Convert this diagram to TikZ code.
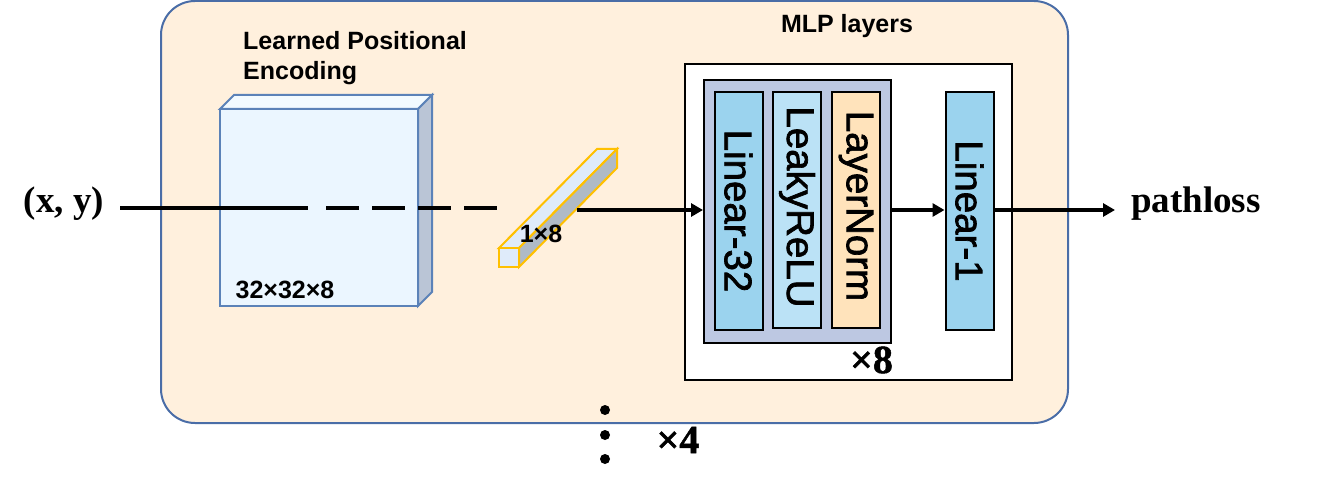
\documentclass[tikz,border=0pt]{standalone}
\usepackage{fontspec}
\setmainfont{Liberation Sans}
\newfontfamily\serifbf{Liberation Serif}
\newfontfamily\timesfont[BoldFeatures={FakeBold=1.2}]{Liberation Serif}
\newfontfamily\layerfont[FakeBold=1.8]{Liberation Sans}
\usetikzlibrary{arrows.meta, positioning}

\definecolor{panelfill}{HTML}{FFF0DD}
\definecolor{panelline}{HTML}{4A6DA7}
\definecolor{cubefront}{HTML}{EBF6FF}
\definecolor{cubetop}{HTML}{F2FAFF}
\definecolor{cubeside}{HTML}{BAC5D6}
\definecolor{cubeline}{HTML}{5B82B8}
\definecolor{stickline}{HTML}{FFC000}
\definecolor{stickfill}{HTML}{DFEBFA}
\definecolor{stickside}{HTML}{AFBAC6}
\definecolor{groupfill}{HTML}{BDC8E2}
\definecolor{linearfill}{HTML}{9BD3EE}
\definecolor{relufill}{HTML}{BBE2F6}
\definecolor{normfill}{HTML}{FFE3BB}

\tikzset{
  layerbox/.style={draw=black, line width=2pt, inner sep=0pt, minimum width=48pt, minimum height=#1},
  layertext/.style={rotate=-90, font=\layerfont\fontsize{38.5}{38.5}\selectfont},
  caption/.style={font=\bfseries\fontsize{25}{30}\selectfont, align=left},
  dimtext/.style={font=\bfseries\fontsize{25}{25}\selectfont},
  bigtext/.style={font=\serifbf\bfseries\fontsize{37}{37}\selectfont},
  timestext/.style={font=\timesfont\bfseries\fontsize{40}{40}\selectfont},
  thick line/.style={line width=4pt},
  flow/.style={line width=3.6pt, -{Triangle[length=12pt, width=13pt]}},
  dot/.style={circle, fill=black, inner sep=0pt, minimum size=10pt}
}

\begin{document}
\begin{tikzpicture}[x=1pt, y=-1pt]

  \useasboundingbox (0,0) rectangle (1328,484);

  % outer panel
  \node[draw=panelline, fill=panelfill, line width=2pt, rounded corners=34pt, inner sep=0pt,
        minimum width=907pt, minimum height=422pt] (panel) at (614.5,212) {};

  % positional encoding cube
  \draw[draw=cubeline, line width=2pt, fill=cubetop] (220,109) -- (234,95) -- (432,95) -- (418,109) -- cycle;
  \draw[draw=cubeline, line width=2pt, fill=cubeside] (418,109) -- (432,95) -- (432,292) -- (418,306) -- cycle;
  \node[draw=cubeline, fill=cubefront, line width=2pt, inner sep=0pt,
        minimum width=198pt, minimum height=197pt] (cube) at (319,207.5) {};

  % embedding stick
  \draw[draw=stickline, line width=2pt, fill=stickfill] (499,248) -- (597,149) -- (617,149) -- (519,248) -- cycle;
  \draw[draw=stickline, line width=2pt, fill=stickside] (519,248) -- (617,149) -- (617,168) -- (519,267) -- cycle;
  \node[draw=stickline, fill=stickfill, line width=2pt, inner sep=0pt,
        minimum width=20pt, minimum height=19pt] (stick) at (509,257.5) {};

  % mlp boxes
  \node[draw=black, fill=white, line width=2pt, inner sep=0pt,
        minimum width=327pt, minimum height=316pt] (mlp) at (848.5,222) {};
  \node[draw=black, fill=groupfill, line width=2pt, inner sep=0pt,
        minimum width=187pt, minimum height=262pt] (group) at (797.5,211.5) {};
  \node[layerbox=238pt, fill=linearfill] (lin32) at (738.5,211) {};
  \node[layerbox=236pt, fill=relufill] (relu) at (797,210) {};
  \node[layerbox=236pt, fill=normfill] (norm) at (856,210) {};
  \node[layerbox=238pt, fill=linearfill] (lin1) at (969.5,211) {};
  \node[layertext] (lin32text) at (lin32) {Linear-32};
  \node[layertext, xshift=-3pt] (relutext) at (relu) {LeakyReLU};
  \node[layertext, xshift=-4pt] (normtext) at (norm) {LayerNorm};
  \node[layertext] (lin1text) at (lin1) {Linear-1};

  % labels
  \node[caption, anchor=north west, inner sep=0pt] (poslabel) at (243,31) {Learned Positional\\Encoding};
  \node[caption, inner sep=0pt] (mlplabel) at (847,26) {MLP layers};
  \node[dimtext, inner sep=0pt] (cubelabel) at (285,290) {32×32×8};
  \node[dimtext, inner sep=0pt] (sticklabel) at (541,234) {1×8};
  \node[bigtext, inner sep=0pt] (input) at (64,204) {(x, y)};
  \node[bigtext, inner sep=0pt] (output) at (1196,204) {pathloss};
  \node[timestext, inner sep=0pt] (times8) at (871.5,360) {×8};
  \node[timestext, inner sep=0pt] (times4) at (678,440) {×4};

  % dots
  \node[dot] (dot1) at (605,410) {};
  \node[dot] (dot2) at (605,435) {};
  \node[dot] (dot3) at (605,459) {};

  % connectors
  \coordinate (solidstart) at (120,208);
  \coordinate (solidend) at (308,208);
  \coordinate (dashstart) at (326,208);
  \coordinate (dashend) at (497,208);
  \coordinate (stickout) at (577,210);
  \coordinate (arrowend) at (1115,210);

  \draw[thick line] (solidstart) -- (solidend);
  \draw[thick line, dash pattern=on 33pt off 13pt] (dashstart) -- (dashend);
  \draw[flow] (stickout) -- (stickout -| group.west);
  \draw[flow] (stickout -| group.east) -- (stickout -| lin1.west);
  \draw[flow] (stickout -| lin1.east) -- (arrowend);

\end{tikzpicture}
\end{document}
